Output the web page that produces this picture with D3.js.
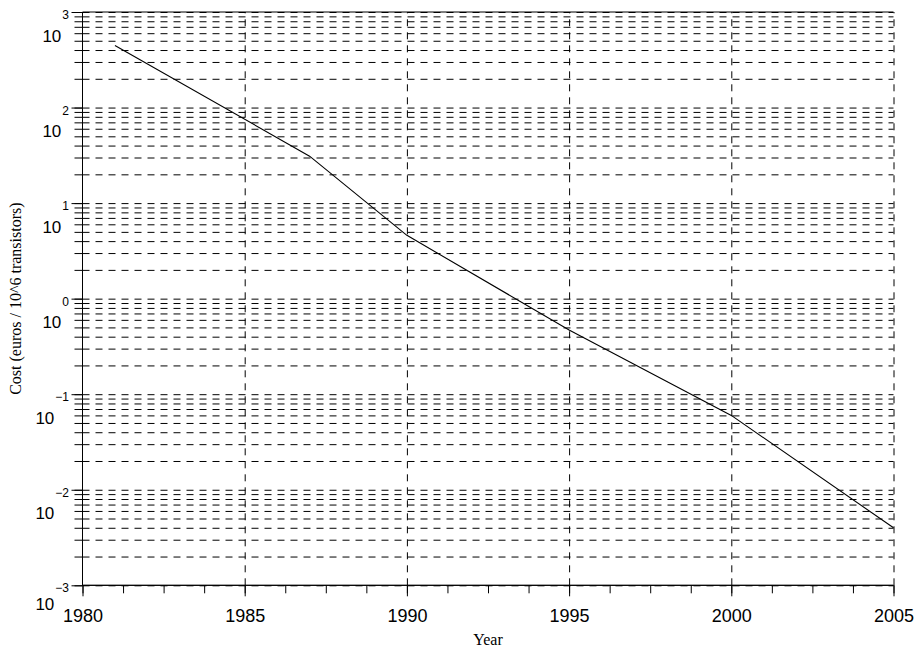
<!DOCTYPE html>
<html>
<head>
<meta charset="utf-8">
<script src="https://cdn.jsdelivr.net/npm/d3@7"></script>
<style>
  html, body { margin: 0; padding: 0; background: #fff; }
  svg { display: block; }
  .tick-label { font-family: "Liberation Sans", Arial, Helvetica, sans-serif; fill: #000; }
  .title { font-family: "Liberation Serif", "Times New Roman", serif; font-size: 16px; fill: #000; }
</style>
</head>
<body>
<svg id="chart" width="916" height="653"></svg>
<script>
// Cost per million transistors over time
const years = [1981, 1987, 1990, 1995, 2000, 2005];
const cost  = [445, 31, 4.6, 0.47, 0.06, 0.004];

const yearTicks = [1980, 1985, 1990, 1995, 2000, 2005];
const decadeExponents = [-3, -2, -1, 0, 1, 2, 3];

const svg = d3.select("#chart");
const plotLeft = 82.5, plotRight = 893.5, plotTop = 12, plotBottom = 585.3;

const x = d3.scaleLinear().domain([1980, 2005]).range([plotLeft, plotRight]);
const y = d3.scaleLog().domain([1e-3, 1e3]).range([plotBottom, plotTop]);

// every m·10^k for the minor grid
const minorVals = [];
for (let k = -3; k < 3; k++) for (let m = 1; m <= 9; m++) minorVals.push(m * Math.pow(10, k));
minorVals.push(1e3);
const majorVals = decadeExponents.map(e => Math.pow(10, e));

const minorYears = d3.range(0, 21).map(i => 1980 + i * 1.25);

const dash = "7,6";

// horizontal dashed grid
const hGrid = svg.append("g").attr("transform", `translate(${plotLeft},0)`)
  .call(d3.axisRight(y).tickValues(minorVals).tickSize(plotRight - plotLeft).tickFormat(""));
hGrid.select(".domain").remove();
hGrid.selectAll("line").attr("stroke", "#000").attr("stroke-width", 1).attr("stroke-dasharray", dash);

// vertical dashed grid
const vGrid = svg.append("g").attr("transform", `translate(0,${plotBottom})`)
  .call(d3.axisTop(x).tickValues(yearTicks.slice(1)).tickSize(plotBottom - plotTop).tickFormat(""));
vGrid.select(".domain").remove();
vGrid.selectAll("line").attr("stroke", "#000").attr("stroke-width", 1).attr("stroke-dasharray", dash);

// top frame line
svg.append("line").attr("x1", plotLeft).attr("x2", plotRight).attr("y1", plotTop).attr("y2", plotTop)
  .attr("stroke", "#000").attr("stroke-width", 1);

// y axis: minor and major ticks
const yMinor = svg.append("g").attr("transform", `translate(${plotLeft},0)`)
  .call(d3.axisLeft(y).tickValues(minorVals).tickSize(8).tickFormat(""));
const yMajor = svg.append("g").attr("transform", `translate(${plotLeft},0)`)
  .call(d3.axisLeft(y).tickValues(majorVals).tickSize(11).tickFormat("").tickSizeOuter(0));
[yMinor, yMajor].forEach(g => {
  g.selectAll("line").attr("stroke", "#000");
  g.select(".domain").attr("stroke", "#000").attr("d", `M0,${plotTop}V${plotBottom}`);
});

// x axis: minor and major ticks
const xMinor = svg.append("g").attr("transform", `translate(0,${plotBottom})`)
  .call(d3.axisBottom(x).tickValues(minorYears).tickSize(8).tickFormat(""));
const xMajor = svg.append("g").attr("transform", `translate(0,${plotBottom})`)
  .call(d3.axisBottom(x).tickValues(yearTicks).tickSize(11).tickFormat(d3.format("d")).tickPadding(6));
[xMinor, xMajor].forEach(g => {
  g.selectAll("line").attr("stroke", "#000");
  g.select(".domain").attr("stroke", "#000").attr("d", `M${plotLeft},0H${plotRight}`);
});
xMajor.selectAll("text").attr("class", "tick-label").attr("font-size", 18)
  .attr("font-family", null).attr("y", 23.5).attr("dy", "0.71em");

// y tick labels as 10 with a superscript exponent
const yLab = svg.append("g");
decadeExponents.forEach((e, i) => {
  const ty = y(Math.pow(10, e));
  const expText = e < 0 ? "\u2212" + Math.abs(e) : String(e);
  const ex = yLab.append("text").attr("class", "tick-label")
    .attr("font-size", 12).attr("text-anchor", "end")
    .attr("x", 69).attr("y", ty + 7).text(expText);
  const w = ex.node().getComputedTextLength();
  const baseDy = (i === 0) ? 24.7 : 29.7;
  yLab.append("text").attr("class", "tick-label")
    .attr("font-size", 17).attr("text-anchor", "end")
    .attr("x", 69 - w - 1).attr("y", ty + baseDy).text("10");
});

// cost line
const line = d3.line().x((d, i) => x(years[i])).y(d => y(d));
svg.append("path").datum(cost).attr("d", line)
  .attr("fill", "none").attr("stroke", "#000").attr("stroke-width", 1.1);

// axis titles
svg.append("text").attr("class", "title").attr("text-anchor", "middle")
  .attr("x", (plotLeft + plotRight) / 2).attr("y", 645).text("Year");
svg.append("text").attr("class", "title").attr("text-anchor", "middle")
  .attr("transform", `translate(21,${(plotTop + plotBottom) / 2}) rotate(-90)`)
  .text("Cost (euros / 10^6 transistors)");
</script>
</body>
</html>
